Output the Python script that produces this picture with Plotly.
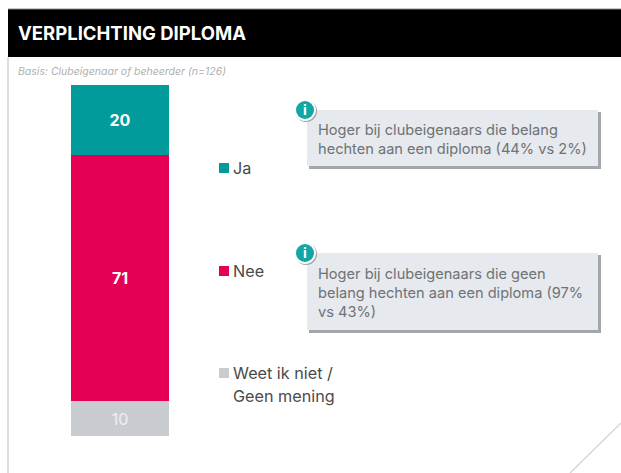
import plotly.graph_objects as go

W, H = 621, 473

# Data, listed from the bottom of the stack to the top
categories = ["Weet ik niet /<br>Geen mening", "Nee", "Ja"]
values = [10, 71, 20]
bar_colors = ["#c8ccd1", "#e50055", "#009b9a"]
label_colors = ["#eef0f2", "#ffffff", "#ffffff"]
title_text = "VERPLICHTING DIPLOMA"
basis_text = "Basis: Clubeigenaar of beheerder (n=126)"
callouts = [
    "Hoger bij clubeigenaars die belang<br>hechten aan een diploma (44% vs 2%)",
    "Hoger bij clubeigenaars die geen<br>belang hechten aan een diploma (97%<br>vs 43%)",
]

FONT = "Inter"


def px(x):
    return x / W


def py(y):
    return 1 - y / H


def rect(x0, y0, x1, y1, color):
    return dict(type="rect", xref="paper", yref="paper", x0=px(x0), x1=px(x1),
                y0=py(y1), y1=py(y0), fillcolor=color, line_width=0, layer="below")


def line(x0, y0, x1, y1, color, width=1.5):
    return dict(type="line", xref="paper", yref="paper", x0=px(x0), x1=px(x1),
                y0=py(y0), y1=py(y1), line=dict(color=color, width=width), layer="below")


def circle(cx, cy, r, color):
    return dict(type="circle", xref="paper", yref="paper", x0=px(cx - r), x1=px(cx + r),
                y0=py(cy + r), y1=py(cy - r), fillcolor=color, line_width=0, layer="below")


def text(x, y, s, size, color, **kw):
    return dict(xref="paper", yref="paper", x=px(x), y=py(y), text=s, showarrow=False,
                xanchor=kw.pop("xanchor", "left"), yanchor="middle", align=kw.pop("align", "left"),
                font=dict(family=kw.pop("family", FONT), size=size, color=color), **kw)


fig = go.Figure()
for cat, val, col, lab in zip(categories, values, bar_colors, label_colors):
    fig.add_trace(go.Bar(
        x=["Diploma"], y=[val], name=cat.replace("<br>", " "),
        marker=dict(color=col, line_width=0),
        text=[f"<b>{val}</b>" if val > 10 else str(val)],
        textposition="inside", insidetextanchor="middle", textangle=0,
        insidetextfont=dict(family=FONT, size=16, color=lab),
        showlegend=False, hoverinfo="skip",
    ))

shapes = [
    rect(8, 9, 621, 57, "#000000"),
    line(8, 57, 8, 473, "#cfd4d9"),
    line(8, 9, 621, 9, "#8a8a8a", 1),
    line(570, 473, 621, 423, "#d5d8db"),
]
annotations = [
    text(16, 33, f"<b>{title_text}</b>", 18.5, "#ffffff"),
    text(16, 71, f"<i>{basis_text}</i>", 10.5, "#b0b0b0"),
]

# Legend entries
legend_y = [168, 271, 373]
for (cat, col, ly) in zip(reversed(categories), reversed(bar_colors), legend_y):
    shapes.append(rect(219, ly - 5, 229, ly + 5, col))
    for i, part in enumerate(cat.split("<br>")):
        annotations.append(text(231, ly + i * 23, part, 16.2, "#4a4a4a"))

# Callout boxes
boxes = [(307, 110, 598, 166), (307, 253, 598, 330)]
text_y = [139, 293]
for (x0, y0, x1, y1), s, ty in zip(boxes, callouts, text_y):
    shapes.append(rect(x0 + 2, y0 + 2, x1 + 3, y1 + 3, "#a3a7ab"))
    shapes.append(rect(x0, y0, x1, y1, "#e6e9ed"))
    shapes.append(circle(306, y0 + 1, 11, "#9fa3a6"))
    shapes.append(circle(305, y0, 11, "#ffffff"))
    shapes.append(circle(305, y0, 9, "#13a6a6"))
    annotations.append(text(305, y0, "<b>i</b>", 14, "#ffffff", xanchor="center", align="center"))
    annotations.append(text(316, ty, s, 14.6, "#6f7276"))

fig.update_layout(
    width=W, height=H, autosize=False,
    margin=dict(l=0, r=0, t=0, b=0),
    paper_bgcolor="#ffffff", plot_bgcolor="rgba(0,0,0,0)",
    barmode="stack", bargap=0,
    xaxis=dict(domain=[px(71), px(169)], visible=False),
    yaxis=dict(domain=[py(436), py(85)], range=[0, sum(values)], visible=False),
    shapes=shapes, annotations=annotations,
)
fig.write_html("out.html", config={"displayModeBar": False},
               post_script="document.body.style.margin='0';document.body.style.overflow='hidden';")
